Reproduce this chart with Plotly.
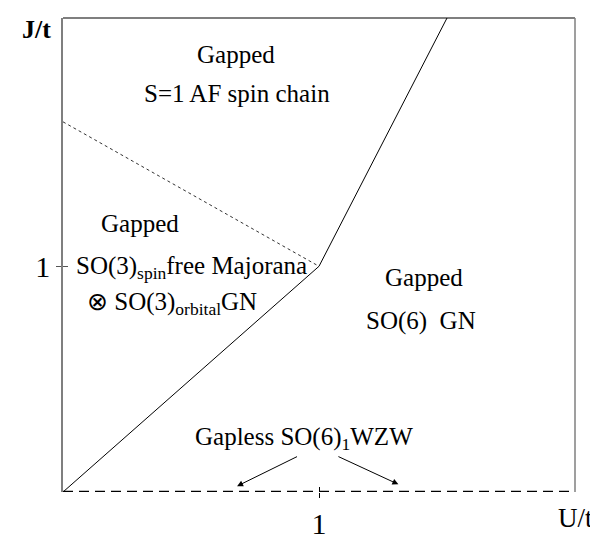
import plotly.graph_objects as go

# phase boundaries
lower_x = [0, 1]
lower_y = [0, 1]
upper_x = [1, 1.5]
upper_y = [1, 2.1]
dotted_x = [0, 1]
dotted_y = [1.64, 1]
gapless_x = [0, 1.98]
gapless_y = [0, 0]

# region labels
label_text = ["Gapped", "S=1 AF spin chain", "Gapped",
              "SO(3)<sub>spin</sub>free Majorana",
              "\u2297 SO(3)<sub>orbital</sub>GN",
              "Gapped", "SO(6)\u00a0\u00a0GN",
              "Gapless SO(6)<sub>1</sub>WZW"]
label_x = [0.676, 0.68, 0.30, 0.50, 0.426, 1.41, 1.398, 0.94]
label_y = [1.94, 1.765, 1.19, 0.996, 0.833, 0.95, 0.756, 0.235]

# arrows (tail -> tip)
arrow_tail_x = [0.92, 1.07]
arrow_tail_y = [0.16, 0.16]
arrow_tip_x = [0.68, 1.31]
arrow_tip_y = [0.026, 0.034]

x_ticks = [1]
y_ticks = [1]
x_range = [0, 2]
y_range = [0, 2.1]

FONT = "Liberation Serif, Times New Roman, serif"

fig = go.Figure()
fig.add_trace(go.Scatter(x=lower_x, y=lower_y, mode="lines",
                         line=dict(color="black", width=1), cliponaxis=False))
fig.add_trace(go.Scatter(x=upper_x, y=upper_y, mode="lines",
                         line=dict(color="black", width=1), cliponaxis=False))
fig.add_trace(go.Scatter(x=dotted_x, y=dotted_y, mode="lines",
                         line=dict(color="#333", width=1, dash="dot"), cliponaxis=False))
fig.add_trace(go.Scatter(x=gapless_x, y=gapless_y, mode="lines",
                         line=dict(color="black", width=2.5, dash="10px,6px"), cliponaxis=False))
# invisible traces to activate the inner-tick overlay axes
fig.add_trace(go.Scatter(x=x_range, y=y_range, xaxis="x2", yaxis="y2", mode="none",
                         hoverinfo="skip"))

annotations = []
for t, x, y in zip(label_text, label_x, label_y):
    annotations.append(dict(x=x, y=y, xref="x", yref="y", text=t, showarrow=False,
                            font=dict(family=FONT, size=25, color="black")))
for tx, ty, hx, hy in zip(arrow_tail_x, arrow_tail_y, arrow_tip_x, arrow_tip_y):
    annotations.append(dict(x=hx, y=hy, ax=tx, ay=ty, xref="x", yref="y",
                            axref="x", ayref="y", text="", showarrow=True,
                            arrowhead=2, arrowsize=1.2, arrowwidth=1, arrowcolor="black"))
annotations.append(dict(x=0, y=1, xref="paper", yref="paper", text="<b>J/t</b>",
                        showarrow=False, xanchor="center", yanchor="middle", xshift=-27, yshift=-11,
                        font=dict(family=FONT, size=26, color="black")))
annotations.append(dict(x=1, y=0, xref="paper", yref="paper", text="U/t",
                        showarrow=False, xanchor="center", yanchor="middle", yshift=-26,
                        font=dict(family=FONT, size=27, color="black")))

fig.update_layout(
    width=598, height=542,
    margin=dict(l=55, r=31, t=10, b=41),
    paper_bgcolor="white", plot_bgcolor="white",
    showlegend=False,
    annotations=annotations,
    xaxis=dict(range=x_range, tickvals=x_ticks, ticktext=[str(v) for v in x_ticks],
               showgrid=False, zeroline=False, showline=False,
               ticks="outside", ticklen=5, tickcolor="black",
               tickfont=dict(family=FONT, size=30, color="black")),
    yaxis=dict(range=y_range, tickvals=y_ticks, ticktext=[str(v) for v in y_ticks],
               showgrid=False, zeroline=False, showline=True, linecolor="#7f7f7f", linewidth=1.5,
               ticks="outside", ticklen=5, tickcolor="#555",
               tickfont=dict(family=FONT, size=30, color="black")),
    xaxis2=dict(range=x_range, tickvals=x_ticks, showticklabels=False, overlaying="x",
                side="bottom", anchor="y2", showgrid=False, zeroline=False, showline=False,
                ticks="inside", ticklen=5, tickcolor="black"),
    yaxis2=dict(range=y_range, tickvals=y_ticks, showticklabels=False, overlaying="y",
                side="left", anchor="x2", showgrid=False, zeroline=False, showline=False,
                ticks="inside", ticklen=5, tickcolor="#555"),
    shapes=[
        dict(type="line", xref="paper", yref="paper", x0=0, x1=1, y0=1, y1=1,
             line=dict(color="black", width=1.2)),
        dict(type="line", xref="paper", yref="paper", x0=1, x1=1, y0=0, y1=1,
             line=dict(color="#7f7f7f", width=1.5)),
    ],
)

fig.write_html("out.html")
